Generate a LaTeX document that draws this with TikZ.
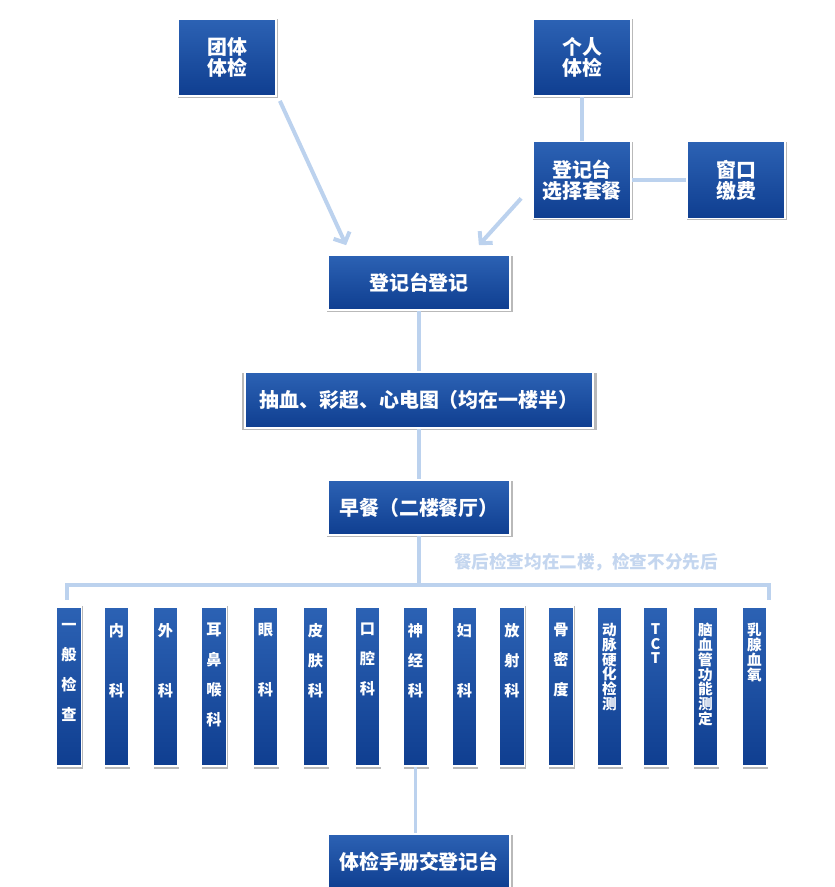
\documentclass[tikz,border=0pt]{standalone}
\usepackage{fontspec}
\newfontfamily\cjk{Noto Sans CJK SC}
\usepackage{xcolor}
\definecolor{boxtop}{HTML}{2C62B4}
\definecolor{boxmid}{HTML}{1A4DA0}
\definecolor{boxbot}{HTML}{0F3E90}
\definecolor{linkblue}{HTML}{BCD2EE}
\definecolor{notecol}{HTML}{C4D6EF}
\usetikzlibrary{arrows.meta,positioning,calc,shadows}

\begin{document}
\begin{tikzpicture}[
  x=0.03cm, y=-0.03cm,
  box/.style={rectangle, draw=white, line width=1.5pt, top color=boxtop, middle color=boxmid,
              bottom color=boxbot, text=white, align=center, inner sep=0pt,
              general shadow={shadow scale=1.02, shadow xshift=0.7pt, shadow yshift=-0.9pt,
                              opacity=0.5, fill=black!55}},
  sq/.style={box, minimum width=2.94cm, minimum height=2.31cm,
             font=\cjk\bfseries\fontsize{17}{18}\selectfont},
  wide/.style={box, minimum width=5.46cm, minimum height=1.65cm,
               font=\cjk\bfseries\fontsize{17}{18}\selectfont},
  colbox/.style={box, minimum width=0.75cm, minimum height=4.77cm},
  colt/.style={anchor=north, inner sep=0pt, text=white, align=center,
               font=\cjk\bfseries\fontsize{13}{25.5}\selectfont},
  coltn/.style={colt, font=\cjk\bfseries\fontsize{12.5}{12.6}\selectfont},
  conn/.style={line width=3.4pt, linkblue},
  arr/.style={conn, -{Straight Barb[length=7pt, width=15pt]}},
  note/.style={text=notecol, font=\cjk\bfseries\fontsize{15}{16}\selectfont},
]
\useasboundingbox (0,0) rectangle (835,887);

% ---------- entry: group / individual
\node[sq] (tuanti) at (227,57.5) {团体\\体检};
\node[sq] (geren)  at (582,57.5) {个人\\体检};
\node[sq] (xuanze) at (582,180)  {登记台\\选择套餐};
\node[sq] (jiaofei) at (736,180) {窗口\\缴费};
\draw[conn] (geren) -- (xuanze);
\draw[conn] (xuanze) -- (jiaofei);

% ---------- main chain
\node[wide] (dengji) at (419,282.5) {登记台登记};
\node[box, minimum width=10.44cm, minimum height=1.68cm,
      font=\cjk\bfseries\fontsize{17}{18}\selectfont] (choux) at (419,400)
      {抽血、彩超、心电图（均在一楼半）};
\node[wide] (zaocan) at (419,507.5) {早餐（二楼餐厅）};
\node[wide] (shouce) at (419,861.5) {体检手册交登记台};

\coordinate (a1s) at ($(tuanti.south east)+(3,4)$);
\coordinate (a1e) at ($(dengji.north west)+(19,-9)$);
\coordinate (a2s) at ($(xuanze.south west)+(-11,-21)$);
\coordinate (a2e) at ($(dengji.north east)+(-32,-9)$);
\draw[arr] (a1s) -- (a1e);
\draw[arr] (a2s) -- (a2e);
\draw[conn] (dengji) -- (choux);
\draw[conn] (choux) -- (zaocan);

% ---------- second floor departments
\node[note] (hint) at (586,562) {餐后检查均在二楼，检查不分先后};
\foreach \n/\x/\txt/\sty in {
  c1/69/{一\\般\\检\\查}/colt,
  c2/116.5/{内\\[25.5pt]科}/colt,
  c3/165.5/{外\\[25.5pt]科}/colt,
  c4/214/{耳\\鼻\\喉\\科}/colt,
  c5/265.5/{眼\\[25.5pt]科}/colt,
  c6/315.5/{皮\\肤\\科}/colt,
  c7/367.5/{口\\腔\\科}/colt,
  c8/415.5/{神\\经\\科}/colt,
  c9/464.5/{妇\\[25.5pt]科}/colt,
  c10/512/{放\\射\\科}/colt,
  c11/561/{骨\\密\\度}/colt,
  c12/609.5/{动\\脉\\硬\\化\\检\\测}/coltn,
  c13/655.5/{T\\C\\T}/coltn,
  c14/705.5/{脑\\血\\管\\功\\能\\测\\定}/coltn,
  c15/754.5/{乳\\腺\\血\\氧}/coltn} {
  \node[colbox] (\n) at (\x,686.5) {};
  \node[\sty] at ($(\n.north)+(0,17)$) {\txt};
}

% ---------- bus over the departments
\coordinate (busl) at (67,600);
\coordinate (busr) at (769,600);
\coordinate (busm) at (zaocan.south |- 0,585);
\draw[conn] (busl) -- ++(0,-15) -| (busr);
\draw[conn] (zaocan.south) -- (busm);
\draw[conn] (c8.south) -- (c8.south |- shouce.north);
\end{tikzpicture}
\end{document}
